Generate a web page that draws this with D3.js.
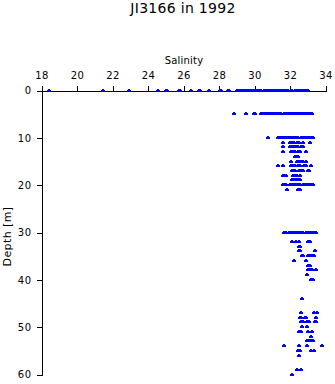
<!DOCTYPE html>
<html>
<head>
<meta charset="utf-8">
<script src="https://cdn.jsdelivr.net/npm/d3@7"></script>
<style>
  html, body { margin: 0; padding: 0; background: #fff; }
  svg { display: block; }
  text { font-family: "DejaVu Sans", "Liberation Sans", Arial, sans-serif; fill: #000; }
</style>
</head>
<body>
<script>
// ---- data ----
const chartTitle = "JI3166 in 1992";
const xLabel = "Salinity";
const yLabel = "Depth [m]";
const salinityTicks = [18, 20, 22, 24, 26, 28, 30, 32, 34];
const depthTicks = [0, 10, 20, 30, 40, 50, 60];

const sampleDepths = [0, 5, 10, 11, 12, 13, 14, 15, 16, 17, 18, 19, 20, 21,
  30, 32, 33, 34, 35, 36, 37, 38, 39, 40, 44, 47, 48, 49, 50, 51, 52, 53, 54, 55, 56, 59, 60];

const salinityByDepth = [
  // 0 m
  [18.41, 21.45, 22.88, 24.55, 24.98, 25.03, 25.7, 25.8, 26.41, 26.85, 26.9, 27.39, 28.03, 28.06, 28.5, 28.53,
   28.97, 29.08, 29.2, 29.31, 29.43, 29.55, 29.66, 29.78, 29.9, 30.01, 30.13, 30.25, 30.36, 30.48, 30.6, 30.71,
   30.83, 30.95, 31.06, 31.18, 31.3, 31.41, 31.53, 31.65, 31.76, 31.88, 32.0, 32.11, 32.23, 32.35, 32.46, 32.58,
   32.7, 32.81, 32.93, 33.0],
  // 5 m
  [28.83, 29.49, 29.93, 30.0,
   30.32, 30.44, 30.56, 30.67, 30.79, 30.91, 31.02, 31.14, 31.26, 31.37, 31.49, 31.61, 31.72, 31.84, 31.96,
   32.07, 32.19, 32.31, 32.42, 32.54, 32.66, 32.77, 32.89, 33.01, 33.12, 33.2],
  // 10 m
  [30.71, 31.28, 31.4, 31.52, 31.63, 31.75, 31.87, 31.98, 32.1, 32.22, 32.33, 32.45, 32.57, 32.68, 32.8, 32.92,
   33.03, 33.15, 33.26],
  // 11 m
  [31.56, 31.98, 32.1, 32.22, 32.34, 32.47, 32.69, 33.08],
  // 12 m
  [31.55, 31.96, 32.08, 32.2, 32.33, 32.45, 32.58, 32.7],
  // 13 m
  [31.56, 32.03, 32.15, 32.27, 32.4, 32.52, 32.85],
  // 14 m
  [32.28, 32.35, 32.42],
  // 15 m
  [32.05, 32.35, 32.47, 32.6, 32.72, 32.85],
  // 16 m
  [31.28, 31.6, 32.03, 32.15, 32.27, 32.4, 32.52, 32.74, 32.87, 33.14],
  // 17 m
  [32.07, 32.16, 32.25, 32.47, 32.58, 32.68, 32.98, 33.02],
  // 18 m
  [31.56, 31.61, 31.7, 31.76, 32.13, 32.26, 32.39, 32.52],
  // 19 m
  [32.07, 32.2, 32.33, 32.45, 32.52],
  // 20 m
  [31.56, 31.65, 31.74, 31.96, 32.08, 32.2, 32.32, 32.44, 32.56, 32.68, 32.8, 32.92, 33.04, 33.16, 33.26],
  // 21 m
  [31.8, 32.41, 32.52],
  // 30 m
  [31.65, 31.77, 31.89, 32.01, 32.13, 32.25, 32.37, 32.49, 32.61, 32.73, 32.85, 32.97, 33.09, 33.21, 33.33, 33.42],
  // 32 m
  [32.07, 32.29, 32.48, 32.98, 33.11],
  // 33 m
  [32.46, 32.51],
  // 34 m
  [32.46, 32.51, 33.36],
  // 35 m
  [32.63, 32.68, 32.98, 33.1, 33.2, 33.3],
  // 36 m
  [32.22, 32.87],
  // 37 m
  [32.98, 33.12],
  // 38 m
  [32.98, 33.08, 33.19, 33.42],
  // 39 m
  [32.91],
  // 40 m
  [33.16, 33.28],
  // 44 m
  [32.65],
  // 47 m
  [32.59, 33.31, 33.47],
  // 48 m
  [32.52, 32.58, 32.8, 32.88, 33.44],
  // 49 m
  [32.59, 32.68, 32.93, 33.07, 33.36, 33.41],
  // 50 m
  [32.62, 32.92],
  // 51 m
  [32.48, 32.57, 32.96, 33.2],
  // 52 m
  [33.13],
  // 53 m
  [32.93, 33.04, 33.14, 33.24],
  // 54 m
  [31.66, 32.46, 32.92, 33.75],
  // 55 m
  [32.43, 32.52, 33.14, 33.3],
  // 56 m
  [32.5],
  // 59 m
  [32.35, 32.57],
  // 60 m
  [32.1]
];

// ---- drawing ----
const W = 335, H = 384;
const svg = d3.select("body").append("svg").attr("width", W).attr("height", H);

const x = d3.scaleLinear().domain([18, 34]).range([41.5, 325.5]);
const y = d3.scaleLinear().domain([0, 60]).range([90.5, 374.5]);

// title
svg.append("text")
  .attr("x", 183).attr("y", 13)
  .attr("text-anchor", "middle")
  .style("font-size", "14px")
  .style("letter-spacing", "0.3px")
  .text(chartTitle);

// x axis (top)
const gx = svg.append("g").attr("transform", "translate(0,90.5)")
  .call(d3.axisTop(x).tickValues(salinityTicks).tickFormat(d3.format("d")).tickSize(5).tickPadding(7));
gx.selectAll("text").style("font-size", "10px").style("font-family", "DejaVu Sans, sans-serif").style("letter-spacing", "0.4px");

// y axis (left)
const gy = svg.append("g").attr("transform", "translate(41.5,0)")
  .call(d3.axisLeft(y).tickValues(depthTicks).tickFormat(d3.format("d")).tickSize(5).tickPadding(5));
gy.selectAll("text").style("font-size", "10px").style("font-family", "DejaVu Sans, sans-serif").style("letter-spacing", "0.5px");

svg.selectAll(".domain, .tick line").attr("stroke", "#000").attr("stroke-width", 1).attr("shape-rendering", "crispEdges");

// axis titles
svg.append("text")
  .attr("x", 184).attr("y", 63.5)
  .attr("text-anchor", "middle")
  .style("font-size", "10px")
  .style("letter-spacing", "0.2px")
  .text(xLabel);

svg.append("text")
  .attr("transform", "translate(11.3,236.5) rotate(-90)")
  .attr("text-anchor", "middle")
  .style("font-size", "11px")
  .style("letter-spacing", "0.4px")
  .text(yLabel);

// points (small plus-shaped markers)
const points = [];
sampleDepths.forEach((d, i) => salinityByDepth[i].forEach(s => points.push({ depth: d, sal: s })));

const marks = svg.append("g").attr("fill", "#0000ff").attr("shape-rendering", "crispEdges");
const pg = marks.selectAll("g.pt").data(points).join("g").attr("class", "pt")
  .attr("transform", d => `translate(${Math.floor(x(d.sal))},${Math.round(y(d.depth))})`);
pg.append("rect").attr("x", -1).attr("y", -1).attr("width", 4).attr("height", 2);
pg.append("rect").attr("x", 0).attr("y", -2).attr("width", 2).attr("height", 3);
</script>
</body>
</html>
